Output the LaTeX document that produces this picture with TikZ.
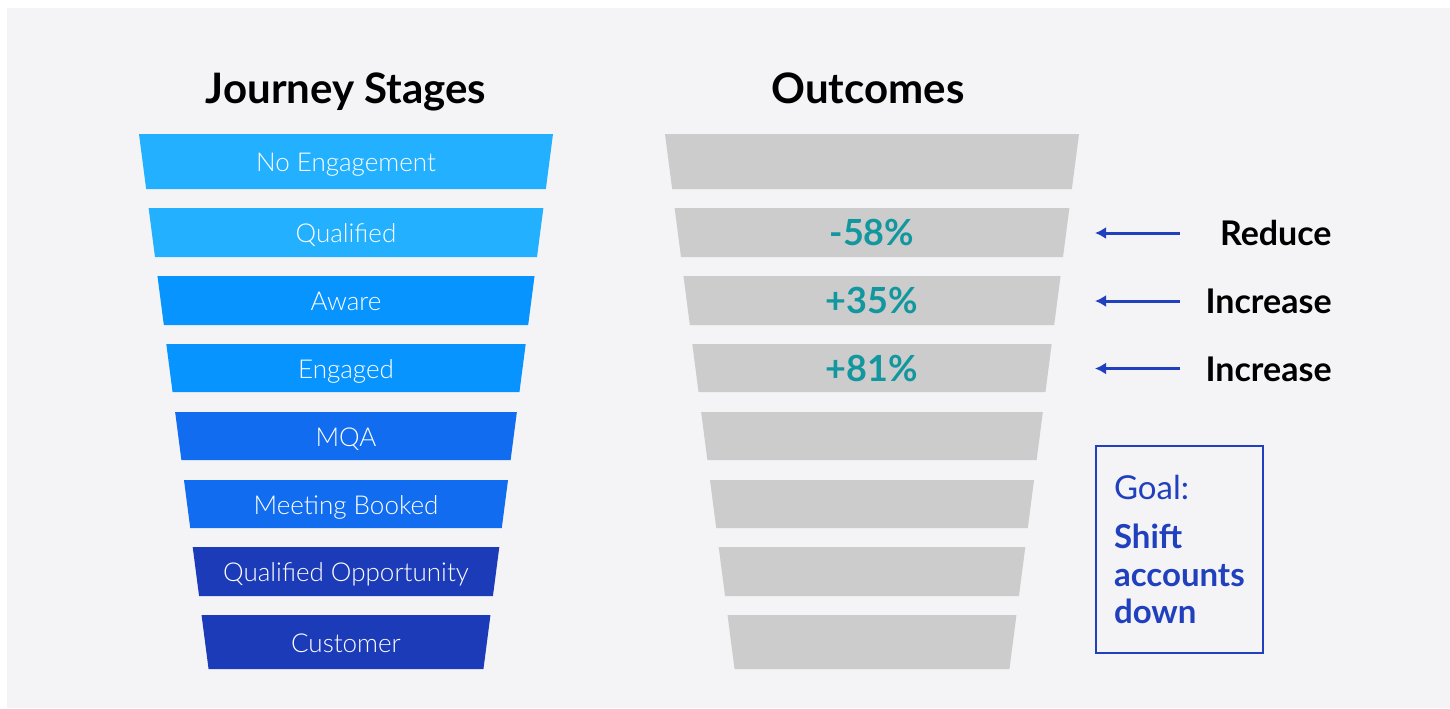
\documentclass[tikz,border=0pt]{standalone}
\usepackage{fontspec}
\setmainfont{Lato}
\newfontfamily\lightfont{Lato Light}
\usetikzlibrary{arrows.meta,calc}

\definecolor{bgGray}{HTML}{F4F4F6}
\definecolor{stageA}{HTML}{22B0FF}
\definecolor{stageB}{HTML}{0894FF}
\definecolor{stageC}{HTML}{126CF0}
\definecolor{stageD}{HTML}{1C3BB8}
\definecolor{barGray}{HTML}{CCCCCC}
\definecolor{pctTeal}{HTML}{13979F}
\definecolor{goalBlue}{HTML}{2140BE}

\tikzset{
  stage/.style={anchor=base, text=white, font=\lightfont\fontsize{13}{15}\selectfont},
  pct/.style={anchor=base, text=pctTeal, font=\bfseries\fontsize{18}{21}\selectfont},
  title/.style={anchor=base, font=\bfseries\fontsize{21}{26}\selectfont},
  change/.style={anchor=base east, inner sep=0pt, font=\bfseries\fontsize{17}{20}\selectfont},
  pointer/.style={draw=goalBlue, line width=1.5pt, -{Latex[length=5.5pt,width=6pt]}},
  goalbox/.style={draw=goalBlue, line width=1pt, text=goalBlue, anchor=north west,
    align=left, text width=65.5pt, inner xsep=9pt, inner ysep=0pt, minimum height=103.5pt,
    font=\fontsize{16.5}{18.75}\selectfont},
}

\begin{document}
\begin{tikzpicture}[x=0.5pt,y=-0.5pt]
\useasboundingbox (0,0) rectangle (1450,708);
\fill[bgGray] (7,8) rectangle (1450,708);

% titles
\node[title] (jtitle) at (346,103) {Journey Stages};
\node[title] (otitle) at (868,103) {Outcomes};

% the two funnels
\foreach \t/\b/\c/\lbl [count=\i] in {134/189/stageA/No Engagement, 208/257/stageA/Qualified,
  276/325/stageB/Aware, 344/392/stageB/Engaged, 412/460/stageC/MQA,
  480/528/stageC/Meeting Booked, 547/596/stageD/Qualified Opportunity, 615/669/stageD/Customer}{
  \pgfmathsetmacro{\wt}{207-0.13*(\t-134)}
  \pgfmathsetmacro{\wb}{207-0.13*(\b-134)}
  \pgfmathsetmacro{\m}{(\t+\b)/2}
  \fill[\c] (346-\wt,\t) -- (346+\wt,\t) -- (346+\wb,\b) -- (346-\wb,\b) -- cycle;
  \fill[barGray] (872-\wt,\t) -- (872+\wt,\t) -- (872+\wb,\b) -- (872-\wb,\b) -- cycle;
  \node[stage] (s\i) at (346,\m+10) {\lbl};
}

% outcomes and pointers
\foreach \y/\val/\word [count=\i] in {232.5/-58\%/Reduce, 300.5/+35\%/Increase, 368/+81\%/Increase}{
  \node[pct] (o\i) at (872,\y+13) {\val};
  \coordinate (from\i) at (1180,\y+0.5);
  \coordinate (to\i) at (1095,\y+0.5);
  \draw[pointer] (from\i) -- (to\i);
  \node[change] (c\i) at (1332,\y+13) {\word};
}

% goal
\node[goalbox] (goal) at (1095,445) {{\mdseries Goal:}\\[6pt]\textbf{Shift}\\\textbf{accounts}\\\textbf{down}};
\end{tikzpicture}
\end{document}
